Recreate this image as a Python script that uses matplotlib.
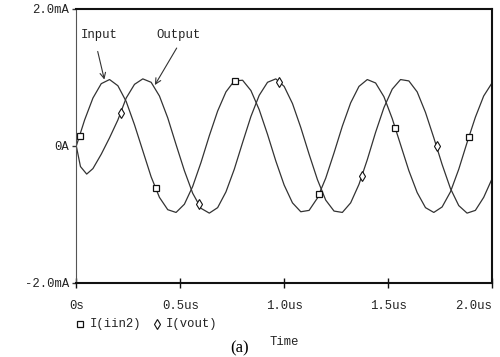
import matplotlib
matplotlib.use("Agg")
import matplotlib.pyplot as plt
from matplotlib.lines import Line2D
import numpy as np

# time axis in microseconds, currents in mA
t_in = [0.00, 0.04, 0.08, 0.12, 0.16, 0.20, 0.24, 0.28, 0.32, 0.36,
        0.40, 0.44, 0.48, 0.52, 0.56, 0.60, 0.64, 0.68, 0.72, 0.76,
        0.80, 0.84, 0.88, 0.92, 0.96, 1.00, 1.04, 1.08, 1.12, 1.16,
        1.20, 1.24, 1.28, 1.32, 1.36, 1.40, 1.44, 1.48, 1.52, 1.56,
        1.60, 1.64, 1.68, 1.72, 1.76, 1.80, 1.84, 1.88, 1.92, 1.96, 2.00]
i_in = [0.00, 0.38, 0.70, 0.91, 0.97, 0.88, 0.65, 0.31, -0.07, -0.45,
        -0.75, -0.93, -0.97, -0.85, -0.59, -0.24, 0.15, 0.51, 0.79, 0.95,
        0.96, 0.81, 0.53, 0.17, -0.22, -0.57, -0.83, -0.96, -0.94, -0.76,
        -0.47, -0.10, 0.29, 0.63, 0.87, 0.97, 0.92, 0.72, 0.40, 0.02,
        -0.36, -0.68, -0.90, -0.97, -0.89, -0.67, -0.34, 0.05, 0.42, 0.73, 0.92]

t_out = [0.00, 0.02, 0.05, 0.08, 0.12, 0.16, 0.20, 0.24, 0.28, 0.32,
         0.36, 0.40, 0.44, 0.48, 0.52, 0.56, 0.60, 0.64, 0.68, 0.72,
         0.76, 0.80, 0.84, 0.88, 0.92, 0.96, 1.00, 1.04, 1.08, 1.12,
         1.16, 1.20, 1.24, 1.28, 1.32, 1.36, 1.40, 1.44, 1.48, 1.52,
         1.56, 1.60, 1.64, 1.68, 1.72, 1.76, 1.80, 1.84, 1.88, 1.92, 1.96, 2.00]
i_out = [0.00, -0.30, -0.41, -0.33, -0.12, 0.12, 0.38, 0.70, 0.90, 0.98,
         0.93, 0.73, 0.41, 0.02, -0.36, -0.69, -0.91, -0.98, -0.90, -0.67,
         -0.34, 0.05, 0.43, 0.74, 0.93, 0.98, 0.87, 0.62, 0.27, -0.12,
         -0.49, -0.79, -0.95, -0.97, -0.83, -0.56, -0.20, 0.20, 0.56, 0.83,
         0.97, 0.95, 0.79, 0.49, 0.12, -0.27, -0.62, -0.87, -0.98, -0.94, -0.75, -0.48]

# PSpice symbol positions along each trace
mark_in_t = [0.016, 0.382, 0.762, 1.168, 1.534, 1.889]
mark_out_t = [0.213, 0.588, 0.975, 1.374, 1.733]

xticks = [0.0, 0.5, 1.0, 1.5, 2.0]
xlabels = ['0s', '0.5us', '1.0us', '1.5us', '2.0us']
yticks = [-2.0, 0.0, 2.0]
ylabels = ['-2.0mA', '0A', '2.0mA']

mono = 'Liberation Mono'
ink = '#333333'

fig = plt.figure(figsize=(5, 3.57), dpi=100)
ax = fig.add_axes([0.1526, 0.2073, 0.8314, 0.7675])

ax.plot(t_in, i_in, color=ink, lw=0.9)
ax.plot(t_out, i_out, color=ink, lw=0.9)
ax.plot(mark_in_t, np.interp(mark_in_t, t_in, i_in), ls='none', marker='s',
        ms=5, mfc='white', mec='#111111', mew=0.9)
ax.plot(mark_out_t, np.interp(mark_out_t, t_out, i_out), ls='none', marker='d',
        ms=5, mfc='white', mec='#111111', mew=0.8)

ax.set_xlim(0, 2.0)
ax.set_ylim(-2.0, 2.0)
ax.set_xticks(xticks)
ax.set_xticklabels(xlabels, family=mono, fontsize=8.8, color='#222222')
ax.get_xticklabels()[-1].set_ha('right')
ax.get_xticklabels()[-1].set_x(2.0)
ax.set_yticks(yticks)
ax.set_yticklabels(ylabels, family=mono, fontsize=8.8, color='#222222')
ax.tick_params(axis='x', direction='inout', length=7, width=1, pad=9, color='#111111')
ax.tick_params(axis='y', direction='out', length=3, width=1, pad=2, color='#333333')

for side in ['top', 'bottom', 'right']:
    ax.spines[side].set_linewidth(1.5)
    ax.spines[side].set_color('#111111')
ax.spines['left'].set_linewidth(0.8)
ax.spines['left'].set_color('#555555')

# curve labels with open arrows
ax.text(0.109, 1.62, 'Input', family=mono, fontsize=8.8, color='#222222',
        ha='center', va='center')
ax.annotate('', xy=(0.135, 0.97), xytext=(0.103, 1.38),
            arrowprops=dict(arrowstyle='->', color='#333333', lw=0.8,
                            shrinkA=0, shrinkB=0))
ax.text(0.494, 1.62, 'Output', family=mono, fontsize=8.8, color='#222222',
        ha='center', va='center')
ax.annotate('', xy=(0.378, 0.89), xytext=(0.483, 1.43),
            arrowprops=dict(arrowstyle='->', color='#333333', lw=0.8,
                            shrinkA=0, shrinkB=0))

# legend row under the axis
W, H = 500.0, 357.0
fig.add_artist(Line2D([80 / W], [1 - 324 / H], marker='s', ms=5, mfc='white',
                      mec='#111111', mew=0.9, ls='none'))
fig.text(90 / W, 1 - 324 / H, 'I(iin2)', family=mono, fontsize=8.8,
         color='#222222', va='center')
fig.add_artist(Line2D([157 / W], [1 - 324 / H], marker='d', ms=5, mfc='white',
                      mec='#111111', mew=0.8, ls='none'))
fig.text(166 / W, 1 - 324 / H, 'I(vout)', family=mono, fontsize=8.8,
         color='#222222', va='center')

fig.text(284.5 / W, 1 - 342 / H, 'Time', family=mono, fontsize=8.8,
         color='#222222', ha='center', va='center')
fig.text(240 / W, 1 - 348 / H, '(a)', family='Liberation Serif', fontsize=12,
         color='black', ha='center', va='center')

fig.savefig('out.png', dpi=100)
